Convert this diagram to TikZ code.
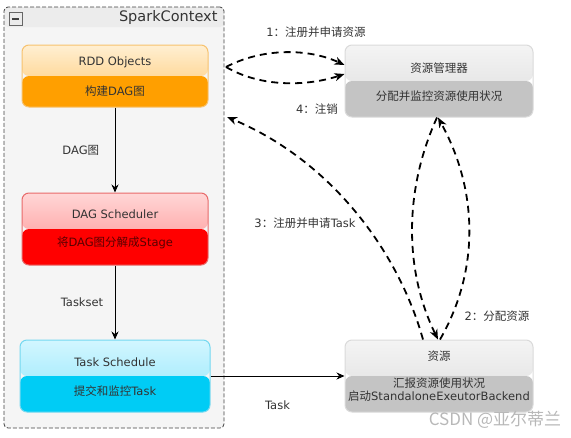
\documentclass[tikz,border=0pt]{standalone}
\usepackage{fontspec}
\setmainfont{DejaVu Sans}
\newfontfamily\cjk{Noto Sans CJK SC}
\newcommand{\zhtext}[1]{{\cjk #1}}
\usetikzlibrary{arrows.meta}

\definecolor{scbg}{HTML}{F5F5F5}
\definecolor{scbar}{HTML}{ECECEC}
\definecolor{orline}{HTML}{F7C26E}
\definecolor{ortop}{HTML}{FFEFD2}
\definecolor{ormid}{HTML}{FFC56A}
\definecolor{orbot}{HTML}{FF9F00}
\definecolor{rdline}{HTML}{E86A6A}
\definecolor{rdtop}{HTML}{FFD6D6}
\definecolor{rdmid}{HTML}{FF8C8C}
\definecolor{rdbot}{HTML}{FF0000}
\definecolor{cyline}{HTML}{74D8F0}
\definecolor{cytop}{HTML}{D2F6FF}
\definecolor{cymid}{HTML}{8EE6FB}
\definecolor{cybot}{HTML}{00CCF5}
\definecolor{gyline}{HTML}{DADADA}
\definecolor{gytop}{HTML}{F4F4F4}
\definecolor{gymid}{HTML}{DCDCDC}
\definecolor{gybot}{HTML}{C4C4C4}

\begin{document}
\begin{tikzpicture}[x=1pt, y=-1pt,
    every node/.style={font=\fontsize{11.5}{13}\selectfont, text=black!80},
    panel/.style n args={4}{draw=#1, line width=1pt, rounded corners=7pt,
        inner sep=0pt, minimum width=188pt, minimum height=72pt,
        path picture={
            \shade[top color=#2, bottom color=#3] (path picture bounding box.north west)
                rectangle (path picture bounding box.east);
            \fill[#4] (path picture bounding box.west)
                rectangle (path picture bounding box.south east);
        }},
    flow/.style={draw=black, line width=0.9pt, -{Stealth[length=8pt, width=7pt]}},
    dashflow/.style={draw=black, line width=1.8pt, dash pattern=on 7pt off 5pt,
        -{Stealth[length=10pt, width=8pt, inset=3pt]}}]
    \useasboundingbox (0,0) rectangle (571,437);

    % SparkContext frame
    \node[draw=black!75, line width=0.8pt, dash pattern=on 4pt off 2pt, fill=scbg, rounded corners=4pt,
        minimum width=220pt, minimum height=421pt, inner sep=0pt,
        path picture={\fill[scbar] (path picture bounding box.north west)
            rectangle ([yshift=-20pt]path picture bounding box.north east);}] (spark) at (114,217.5) {};
    \node[draw=black!60, fill=black!8, minimum size=13pt, inner sep=0pt] (toggle) at (15.5,19) {};
    \draw[line width=1.2pt, black!75] ([xshift=3pt]toggle.west) -- ([xshift=-3pt]toggle.east);
    \node[font=\fontsize{14.5}{16}\selectfont, anchor=east] (sctitle) at (221,17) {SparkContext};

    % boxes
    \node[panel={orline}{ortop}{ormid}{orbot}, minimum width=186pt, minimum height=62pt] (rdd) at (115,76) {};
    \node (rddt) at (115,62) {RDD Objects};
    \node (rddb) at (115,91) {\zhtext{构建}DAG\zhtext{图}};

    \node[panel={rdline}{rdtop}{rdmid}{rdbot}, minimum width=186pt] (dag) at (115,229) {};
    \node (dagt) at (115,214) {DAG Scheduler};
    \node[text=red!35!black] (dagb) at (115,243) {\zhtext{将}DAG\zhtext{图分解成}Stage};

    \node[panel={cyline}{cytop}{cymid}{cybot}, minimum width=190pt] (task) at (115,376) {};
    \node (taskt) at (115,362) {Task Schedule};
    \node (taskb) at (115,391) {\zhtext{提交和监控}Task};

    \node[panel={gyline}{gytop}{gymid}{gybot}] (rm) at (439,81) {};
    \node (rmt) at (439,68) {\zhtext{资源管理器}};
    \node (rmb) at (439,96) {\zhtext{分配并监控资源使用状况}};

    \node[panel={gyline}{gytop}{gymid}{gybot}] (res) at (439,376) {};
    \node (rest) at (439,356) {\zhtext{资源}};
    \node[align=center] (resb) at (439,390) {\zhtext{汇报资源使用状况}\\\zhtext{启动}StandaloneExeutorBackend};

    % solid flow
    \draw[flow] (rdd) -- node[left=12pt] (dagl) {DAG\zhtext{图}} (dag);
    \draw[flow] (dag) -- node[left=8pt] (tsl) {Taskset} (task);
    \draw[flow] (task) -- node[below=21pt] (tl) {Task} (res);

    % dashed flow
    \coordinate (sc1) at (226,67);
    \coordinate (sc3) at (227,117);
    \draw[dashflow] (sc1) .. controls (262,48) and (308,48) .. ([yshift=16pt]rm.west);
    \draw[dashflow] (sc1) .. controls (262,88) and (308,86) .. ([yshift=7pt]rm.west);
    \draw[dashflow] ([xshift=-2pt]rm.south) .. controls (404,190) and (404,270) .. ([xshift=-1pt]res.north);
    \draw[dashflow] ([xshift=1pt]res.north) .. controls (480,270) and (478,190) .. ([xshift=-1pt]rm.south);
    \draw[dashflow] ([xshift=-16pt]res.north) .. controls (398,250) and (330,160) .. (sc3);

    \node (l1) at (316,32) {1\zhtext{：注册并申请资源}};
    \node (l4) at (317,109) {4\zhtext{：注销}};
    \node (l3) at (305,223) {3\zhtext{：注册并申请}Task};
    \node (l2) at (497,316) {2\zhtext{：分配资源}};

    \node[font=\cjk\fontsize{17}{19}\selectfont, text=black!28] (wm) at (495,420) {CSDN @亚尔蒂兰};
\end{tikzpicture}
\end{document}
